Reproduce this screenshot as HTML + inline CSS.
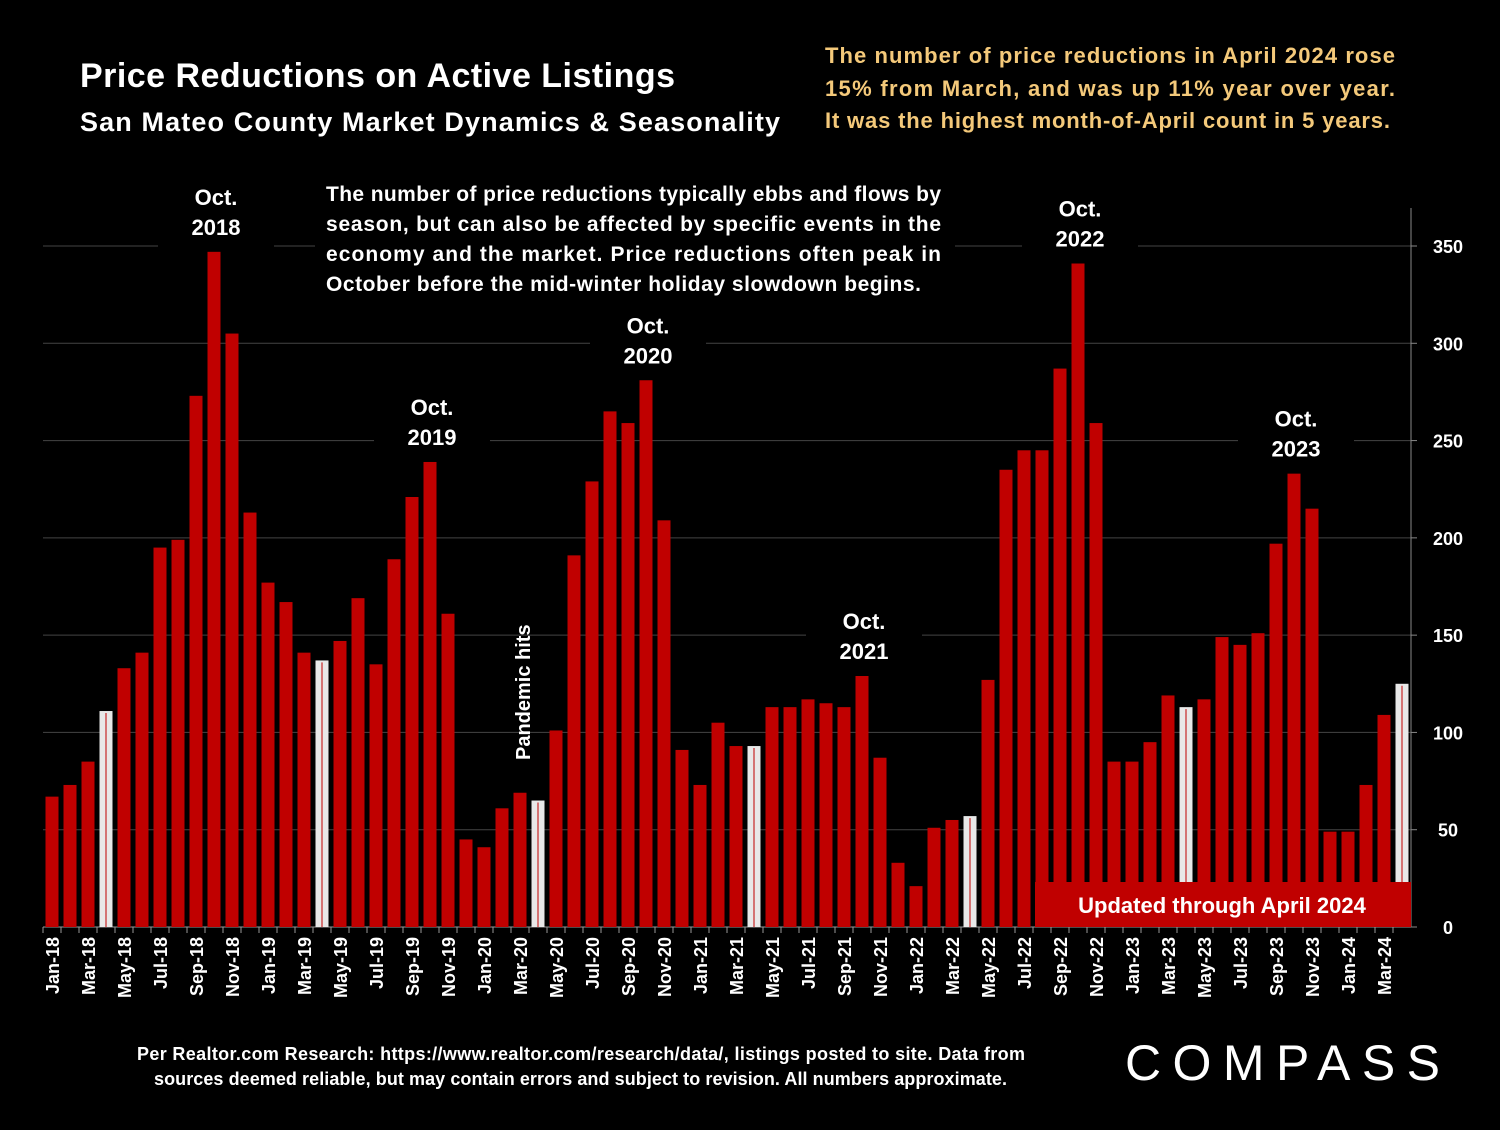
<!DOCTYPE html>
<html><head><meta charset="utf-8"><style>
body{margin:0;background:#000;width:1500px;height:1125px;overflow:hidden;font-family:"Liberation Sans",sans-serif}
</style></head><body>
<svg id="c" width="1500" height="1125" viewBox="0 0 1500 1125" font-family="Liberation Sans, sans-serif">
<rect width="1500" height="1125" fill="#000"/>
<g id="grid"></g>
<g id="bars"></g>
<g id="ann"></g>
<g id="xl"></g>
<text x="80" y="87" fill="#fff" font-size="34" font-weight="bold" textLength="595">Price Reductions on Active Listings</text>
<text x="80" y="131" fill="#fff" font-size="27" font-weight="bold" textLength="700">San Mateo County Market Dynamics &amp; Seasonality</text>
<g fill="#f4c97a" font-size="22" font-weight="bold">
<text x="825" y="63" textLength="570">The number of price reductions in April 2024 rose</text>
<text x="825" y="96" textLength="570">15% from March, and was up 11% year over year.</text>
<text x="825" y="128" textLength="565">It was the highest month-of-April count in 5 years.</text>
</g>
<rect x="315" y="178" width="640" height="122" fill="#000"/>
<g fill="#fff" font-size="21" font-weight="bold">
<text x="326" y="201" textLength="615">The number of price reductions typically ebbs and flows by</text>
<text x="326" y="231" textLength="615">season, but can also be affected by specific events in the</text>
<text x="326" y="261" textLength="615">economy and the market. Price reductions often peak in</text>
<text x="326" y="291" textLength="595">October before the mid-winter holiday slowdown begins.</text>
</g>
<rect x="1035" y="882" width="376" height="45" fill="#c00000"/>
<text x="1222" y="913" fill="#fff" font-size="22" font-weight="bold" text-anchor="middle">Updated through April 2024</text>
<text transform="translate(530,760) rotate(-90)" fill="#fff" font-size="20" font-weight="bold">Pandemic hits</text>
<g fill="#fff" font-size="18" font-weight="bold">
<text x="137" y="1060" textLength="888">Per Realtor.com Research:  https://www.realtor.com/research/data/, listings posted to site. Data from</text>
<text x="154" y="1085" textLength="853">sources deemed reliable, but may contain errors and subject to revision. All numbers approximate.</text>
</g>
<text x="1125" y="1080" fill="#fff" font-size="50" textLength="315">COMPASS</text>
</svg>
<script>
const months=["Jan","Feb","Mar","Apr","May","Jun","Jul","Aug","Sep","Oct","Nov","Dec"];
const values=[67,73,85,111,133,141,195,199,273,347,305,213,177,167,141,137,147,169,135,189,221,239,161,45,41,61,69,65,101,191,229,265,259,281,209,91,73,105,93,93,113,113,117,115,113,129,87,33,21,51,55,57,127,235,245,245,287,341,259,85,85,95,119,113,117,149,145,151,197,233,215,49,49,73,109,125];
const yTicks=[0,50,100,150,200,250,300,350];
const peaks=[["Oct.","2018",9],["Oct.","2019",21],["Oct.","2020",33],["Oct.","2021",45],["Oct.","2022",57],["Oct.","2023",69]];
const NS="http://www.w3.org/2000/svg";
const x0=43,step=18,y0=927,k=681/350,right=x0+step*76;
const X=i=>x0+step*i+step/2, Y=v=>y0-v*k;
function el(t,a,p){const e=document.createElementNS(NS,t);for(const q in a)e.setAttribute(q,a[q]);document.getElementById(p).appendChild(e);return e;}
yTicks.forEach(v=>{
 if(v>0){const g=el('line',{x1:x0,x2:right,y1:Y(v),y2:Y(v),stroke:'#444','stroke-width':1},'grid');
 
 }
 const t=el('text',{x:1448,y:Y(v)+7,fill:'#fff','font-size':18,'font-weight':'bold','text-anchor':'middle'},'grid');t.textContent=v;
 
 
 el('line',{x1:right,x2:right+6,y1:Y(v),y2:Y(v),stroke:'#888'},'grid');
});
el('line',{x1:right,x2:right,y1:208,y2:y0,stroke:'#888'},'grid');
el('line',{x1:x0,x2:right,y1:y0,y2:y0,stroke:'#999'},'grid');
values.forEach((v,i)=>{
 const apr=i%12===3;
 const b=el('rect',{x:X(i)-6.5,y:Y(v),width:13,height:v*k,fill:apr?'#e8e8e8':'#c00000'},'bars');
 
 
 if(apr)el('line',{x1:X(i),x2:X(i),y1:Y(v)+2,y2:y0,stroke:'#c00000','stroke-width':1},'bars');
 el('line',{x1:x0+step*i,x2:x0+step*i,y1:y0,y2:y0+6,stroke:'#999'},'xl');
 if(i%2===0){
  const t=el('text',{transform:`translate(${X(i)+7},937) rotate(-90)`,fill:'#fff','font-size':18,'font-weight':'bold','text-anchor':'end'},'xl');
  t.textContent=months[i%12]+'-'+(18+Math.floor(i/12));
  
  
 }
});
peaks.forEach(p=>{
 const i=p[2],cx=X(i)+2,ty=Y(values[i])-17;
 el('rect',{x:cx-58,y:ty-52,width:116,height:66,fill:'#000'},'ann');
 [p[0],p[1]].forEach((s,j)=>{const t=el('text',{x:cx,y:ty-30+j*30,fill:'#fff','font-size':22,'font-weight':'bold','text-anchor':'middle'},'ann');t.textContent=s;
 
 });
});
</script>
</body></html>
